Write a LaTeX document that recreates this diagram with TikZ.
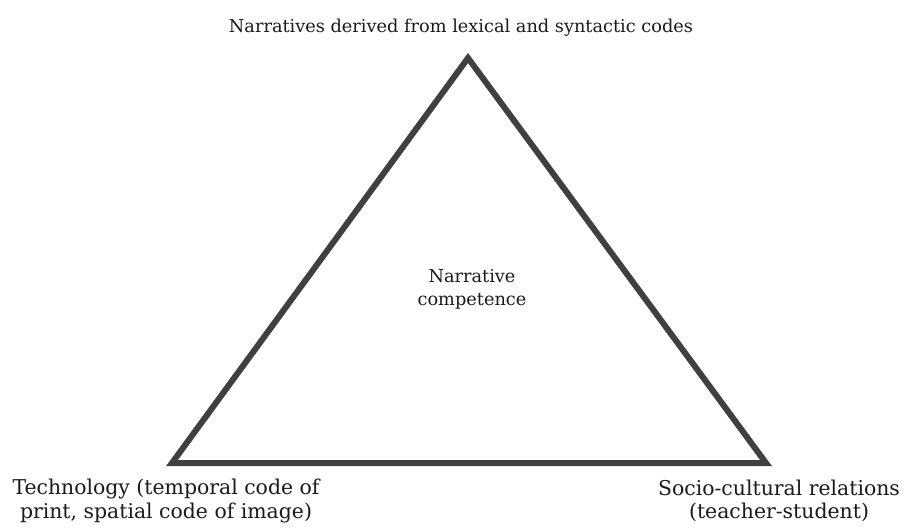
\documentclass[tikz,border=0pt]{standalone}
\usepackage{fontspec}
\setmainfont{DejaVu Serif}
\usepackage{xcolor}
\usepackage{tikz}
\definecolor{EdgeGrey}{HTML}{404040}
\definecolor{InkBlack}{HTML}{1A1A1A}

\begin{document}
\begin{tikzpicture}[
  x=0.75pt,y=-0.75pt,
  every node/.style={font=\fontsize{13.3}{17.5}\selectfont,align=center,text=InkBlack,inner sep=0pt},
  base/.style={font=\fontsize{15.3}{17.5}\selectfont},
  side/.style={draw=EdgeGrey,line width=4.5pt,line join=miter}
]
\useasboundingbox (0,0) rectangle (907,529);

\coordinate (apex) at (468,58);
\coordinate (lcorner) at (172,463);
\coordinate (rcorner) at (766,463);
\draw[side] (apex) -- (lcorner) -- (rcorner) -- cycle;

\node[anchor=base] (lexical) at (461,32) {Narratives derived from lexical and syntactic codes};
\node (competence) at (472,289) {Narrative\\competence};
\node[base] (technology) at (166,501) {Technology (temporal code of\\print, spatial code of image)};
\node[base] (social) at (779,501) {Socio-cultural relations\\(teacher-student)};
\end{tikzpicture}
\end{document}
